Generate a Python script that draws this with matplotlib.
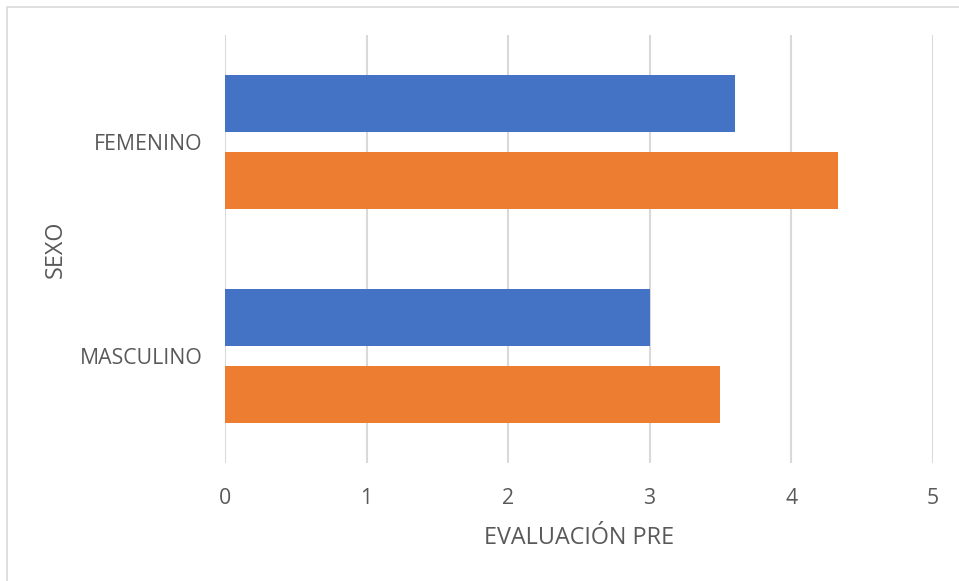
import matplotlib
matplotlib.use("Agg")
import matplotlib.pyplot as plt
from matplotlib.patches import Rectangle

# Data
categories = ["MASCULINO", "FEMENINO"]
serie_azul = [3.0, 3.6]
serie_naranja = [3.5, 4.33]
x_ticks = [0, 1, 2, 3, 4, 5]

plt.rcParams['font.family'] = ['Open Sans', 'DejaVu Sans']
text_color = "#595959"
grid_color = "#d9d9d9"

W, H = 959, 581
fig = plt.figure(figsize=(W / 100, H / 100), dpi=100)
fig.patch.set_facecolor("white")

# Chart frame
fig.patches.append(Rectangle((7 / W, -0.1), 1.2, 1.1 - 6.5 / H, transform=fig.transFigure,
                             fill=False, edgecolor=grid_color, linewidth=1.2))

ax = fig.add_axes([225 / W, 1 - 463 / H, (932.7 - 225) / W, (463 - 35) / H])

ypos = list(range(len(categories)))
h = 0.266
off = 0.178
ax.barh([y + off for y in ypos], serie_azul, height=h, color="#4472c4", zorder=3)
ax.barh([y - off for y in ypos], serie_naranja, height=h, color="#ed7d31", zorder=3)

ax.set_xlim(0, 5)
ax.set_ylim(-0.5, 1.5)
ax.set_xticks(x_ticks)
ax.set_xticklabels([str(t) for t in x_ticks])
ax.set_yticks(ypos)
ax.set_yticklabels(categories)

for s in ax.spines.values():
    s.set_visible(False)
ax.grid(axis="x", color=grid_color, linewidth=1.5, zorder=0)
ax.tick_params(axis="both", length=0, labelcolor=text_color, labelsize=15.3)
ax.tick_params(axis="x", pad=18)
ax.tick_params(axis="y", pad=16)

ax.set_xlabel("EVALUACIÓN PRE", color=text_color, fontsize=16.8, labelpad=12)
ax.set_ylabel("SEXO", color=text_color, fontsize=16.8)
ax.yaxis.set_label_coords((68 - 225) / (932.7 - 225), (463 - 249) / (463 - 35))

fig.savefig("out.png", dpi=100, facecolor="white")
